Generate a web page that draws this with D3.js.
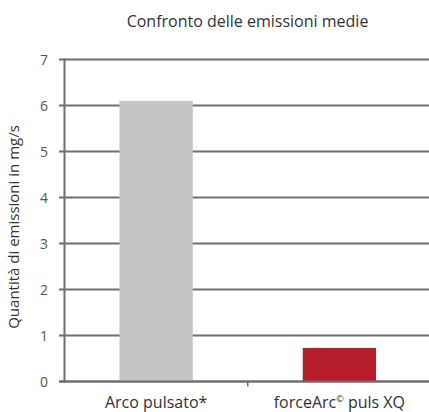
<!DOCTYPE html>
<html><head><meta charset="utf-8">
<script src="https://cdn.jsdelivr.net/npm/d3@7"></script>
<style>body{margin:0;background:#fff}svg{display:block}</style>
</head><body>
<svg id="c" width="429" height="412"></svg>
<script>
const categories = ["Arco pulsato*", "forceArc© puls XQ"];
const values = [6.1, 0.73];
const colors = ["#c5c5c5", "#b71e2c"];
const yTicks = [0, 1, 2, 3, 4, 5, 6, 7];
const title = "Confronto delle emissioni medie";
const yLabel = "Quantità di emissioni in mg/s";

const svg = d3.select("#c");
const font = "'Open Sans', 'Noto Sans', sans-serif";
const x = d3.scaleBand().domain(categories).range([64.5, 431]).padding(0);
const y = d3.scaleLinear().domain([0, 7]).range([381.5, 59.5]);

// gridlines
svg.append("g").selectAll("line").data(yTicks).join("line")
  .attr("x1", 59).attr("x2", 429)
  .attr("y1", d => y(d)).attr("y2", d => y(d))
  .attr("stroke", "#6f6f6f").attr("stroke-width", 2);

// bars
const bw = x.bandwidth() * 0.4;
svg.append("g").selectAll("rect").data(categories).join("rect")
  .attr("x", d => x(d) + x.bandwidth() / 2 - bw / 2)
  .attr("width", bw)
  .attr("y", (d, i) => y(values[i]))
  .attr("height", (d, i) => y(0) - y(values[i]))
  .attr("fill", (d, i) => colors[i]);

// baseline redraw
svg.append("line").attr("x1", 59).attr("x2", 429).attr("y1", y(0)).attr("y2", y(0))
  .attr("stroke", "#6f6f6f").attr("stroke-width", 2);

// y axis line
svg.append("line").attr("x1", 64.5).attr("x2", 64.5).attr("y1", y(7) - 1).attr("y2", y(0) + 1)
  .attr("stroke", "#6f6f6f").attr("stroke-width", 2);

// x category divider tick
svg.append("line").attr("x1", x(categories[1])).attr("x2", x(categories[1]))
  .attr("y1", y(0)).attr("y2", y(0) + 5)
  .attr("stroke", "#6f6f6f").attr("stroke-width", 1.5);

// y tick labels
svg.append("g").selectAll("text").data(yTicks).join("text")
  .attr("x", 48).attr("y", d => y(d)).attr("dy", "0.36em")
  .attr("text-anchor", "end").attr("font-family", font).attr("font-size", 14)
  .attr("fill", "#555").text(d => d);

// x labels
const xl = svg.append("g");
xl.append("text").attr("x", x(categories[0]) + x.bandwidth() / 2).attr("y", 408)
  .attr("text-anchor", "middle").attr("font-family", font).attr("font-size", 16)
  .attr("fill", "#333").text(categories[0]);
const t2 = xl.append("text").attr("x", x(categories[1]) + x.bandwidth() / 2).attr("y", 408)
  .attr("text-anchor", "middle").attr("font-family", font).attr("font-size", 16)
  .attr("fill", "#333");
const parts = categories[1].split("©");
t2.append("tspan").text(parts[0]);
t2.append("tspan").attr("font-size", 9).attr("dy", -6).text("©");
t2.append("tspan").attr("dy", 6).text(parts[1]);

// title
svg.append("text").attr("x", 247.5).attr("y", 27).attr("text-anchor", "middle")
  .attr("font-family", font).attr("font-size", 16).attr("fill", "#333").text(title);

// y label
svg.append("text").attr("transform", "translate(19,227) rotate(-90)")
  .attr("text-anchor", "middle").attr("font-family", font).attr("font-size", 15)
  .attr("fill", "#333").text(yLabel);
</script>
</body></html>
